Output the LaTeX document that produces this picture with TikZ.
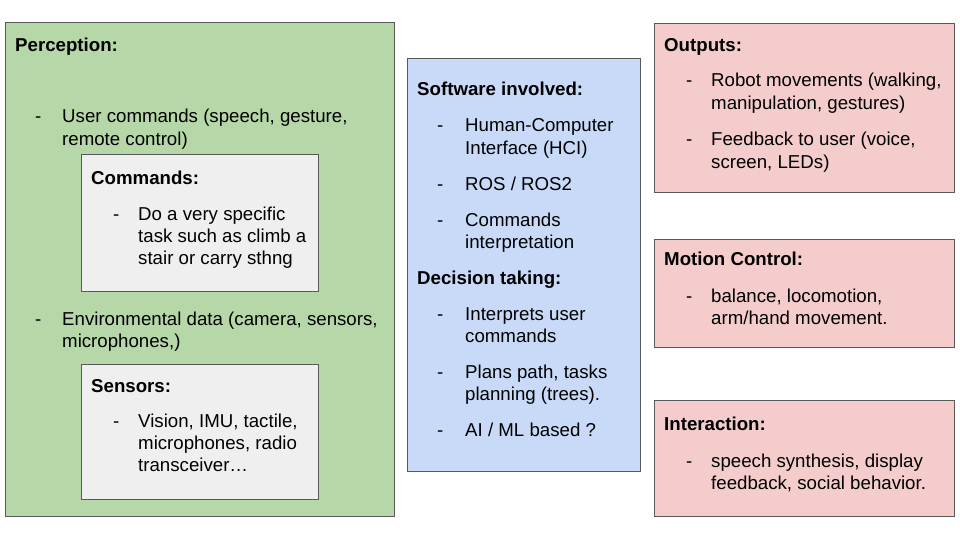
\documentclass[tikz,border=0pt]{standalone}
\usepackage{fontspec}
\setmainfont{Liberation Sans}
\definecolor{edge}{HTML}{595959}
\definecolor{percfill}{HTML}{B6D7A8}
\definecolor{subfill}{HTML}{EFEFEF}
\definecolor{softfill}{HTML}{C9DAF8}
\definecolor{outfill}{HTML}{F4CCCC}
% stack of left-aligned lines whose baseline is the first line's
\newcommand\rows[1]{\vtop{\halign{##\hfil\cr#1\crcr}}}
\begin{document}
\begin{tikzpicture}[x=1pt,y=-1pt,
  box/.style={draw=edge, line width=1pt, anchor=north west, inner sep=0pt, outer sep=0pt},
  ttl/.style={anchor=base west, inner sep=0pt, yshift=-1pt, font=\fontsize{18.67}{22.4}\selectfont\bfseries},
  txt/.style={anchor=base west, inner sep=0pt, yshift=-1pt, font=\fontsize{18.67}{22.4}\selectfont},
]
\useasboundingbox (0,0) rectangle (960,540);

% boxes
\node[box, fill=percfill, minimum width=389.5pt, minimum height=493.5pt] (perc) at (5,23) {};
\node[box, fill=subfill, minimum width=237pt, minimum height=136pt] (cmdbox) at (81.5,155) {};
\node[box, fill=subfill, minimum width=237pt, minimum height=135pt] (senbox) at (81.5,364) {};
\node[box, fill=softfill, minimum width=233pt, minimum height=412.5pt] (soft) at (407,58.5) {};
\node[box, fill=outfill, minimum width=300pt, minimum height=169pt] (outp) at (654,23.5) {};
\node[box, fill=outfill, minimum width=300pt, minimum height=108pt] (motion) at (654,239) {};
\node[box, fill=outfill, minimum width=300pt, minimum height=116.5pt] (inter) at (654,400) {};

% perception
\node[ttl] (percT) at (15,51) {Perception:};
\node[txt] (pd1) at (35,122) {-};
\node[txt] (pt1) at (62,122) {\rows{User commands (speech, gesture,\cr remote control)}};
\node[ttl] (cmdT) at (91,183) {Commands:};
\node[txt] (cd1) at (113,219) {-};
\node[txt] (ct1) at (138,219) {\rows{Do a very specific\cr task such as climb a\cr stair or carry sthng}};
\node[txt] (pd2) at (35,324) {-};
\node[txt] (pt2) at (62,324) {\rows{Environmental data (camera, sensors,\cr microphones,)}};
\node[ttl] (senT) at (91,391) {Sensors:};
\node[txt] (sd1) at (113,426) {-};
\node[txt] (st1) at (138,426) {\rows{Vision, IMU, tactile,\cr microphones, radio\cr transceiver…}};

% software
\node[ttl] (softT) at (417,95) {Software involved:};
\node[txt] (wd1) at (437,131) {-};
\node[txt] (wt1) at (465,131) {\rows{Human-Computer\cr Interface (HCI)}};
\node[txt] (wd2) at (437,189) {-};
\node[txt] (wt2) at (465,189) {ROS / ROS2};
\node[txt] (wd3) at (437,225) {-};
\node[txt] (wt3) at (465,225) {\rows{Commands\cr interpretation}};
\node[ttl] (decT) at (417,283) {Decision taking:};
\node[txt] (dd1) at (437,319) {-};
\node[txt] (dt1) at (465,319) {\rows{Interprets user\cr commands}};
\node[txt] (dd2) at (437,377) {-};
\node[txt] (dt2) at (465,377) {\rows{Plans path, tasks\cr planning (trees).}};
\node[txt] (dd3) at (437,435) {-};
\node[txt] (dt3) at (465,435) {AI / ML based ?};

% outputs
\node[ttl] (outT) at (664,51) {Outputs:};
\node[txt] (od1) at (686,86) {-};
\node[txt] (ot1) at (711,86) {\rows{Robot movements (walking,\cr manipulation, gestures)}};
\node[txt] (od2) at (686,145) {-};
\node[txt] (ot2) at (711,145) {\rows{Feedback to user (voice,\cr screen, LEDs)}};

% motion control
\node[ttl] (motT) at (664,264) {Motion Control:};
\node[txt] (md1) at (686,301) {-};
\node[txt] (mt1) at (711,301) {\rows{balance, locomotion,\cr arm/hand movement.}};

% interaction
\node[ttl] (intT) at (664,429) {Interaction:};
\node[txt] (id1) at (686,466) {-};
\node[txt] (it1) at (711,466) {\rows{speech synthesis, display\cr feedback, social behavior.}};
\end{tikzpicture}
\end{document}
